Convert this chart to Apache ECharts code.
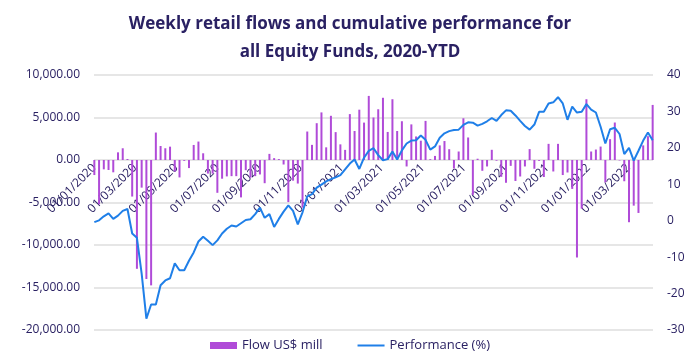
<!DOCTYPE html>
<html>
<head>
<meta charset="utf-8">
<script src="https://cdn.jsdelivr.net/npm/echarts@6/dist/echarts.min.js"></script>
<style>
html,body{margin:0;padding:0;background:#fff;}
#chart{width:700px;height:363px;}
</style>
</head>
<body>
<div id="chart"></div>
<script>
// ---- data ----
const titleText = 'Weekly retail flows and cumulative performance for\nall Equity Funds, 2020-YTD';
const firstWeek = [2020, 1, 1]; // weekly (Wednesday) observations start 01/01/2020
const xTickLabels = ['01/01/2020','01/03/2020','01/05/2020','01/07/2020','01/09/2020','01/11/2020',
  '01/01/2021','01/03/2021','01/05/2021','01/07/2021','01/09/2021','01/11/2021','01/01/2022','01/03/2022'];
const flowName = 'Flow US$ mill';
const perfName = 'Performance (%)';
const flows = [
  -1770,-5200,-1100,-1180,-1450,900,1380,120,-4300,-12800,
  -3250,-14000,-14750,3230,1650,1380,1570,-1350,-2050,-100,
  -950,1770,2170,790,-1600,-1600,-3860,-2200,-1930,-1900,
  -1900,-4400,-1200,-2080,-1900,-1700,-2730,720,220,110,
  -530,-4950,-2430,-2770,-5600,3350,1780,4330,5600,1490,
  5200,3280,1840,1190,5400,3410,5920,4400,7540,5000,
  5970,7320,3300,7150,3410,4560,-760,4190,2770,2270,
  4600,100,480,1720,2230,1270,-1000,1000,4910,2650,
  -4100,150,-1270,-760,1200,-80,-1980,-2680,-690,-2470,
  -1940,-760,1280,-1030,-100,-2000,1900,-1350,1900,-1770,
  -1470,-3400,-11470,-5720,7150,1000,1230,1580,-2620,2450,
  4410,-50,-2500,-7320,-5370,-6230,1720,2800,6480
];
const performance = [
  -0.4,0.1,1.2,2.0,0.5,1.4,2.7,3.2,-3.5,-4.7,
  -14.5,-26.9,-23.0,-23.0,-17.7,-16.4,-15.8,-11.7,-13.6,-13.6,
  -11.0,-8.7,-5.7,-4.4,-5.5,-6.7,-5.4,-3.5,-2.2,-1.3,
  -1.6,-0.7,0.2,0.4,1.8,3.6,0.8,1.8,-1.7,0.5,
  2.5,4.2,2.7,-1.0,2.3,6.7,7.3,9.1,9.9,10.8,
  11.4,11.9,12.5,14.1,15.7,16.8,14.2,17.3,19.2,19.9,
  18.0,16.6,16.9,19.0,16.8,19.3,21.2,22.0,22.1,23.4,
  22.2,19.5,20.4,22.8,24.0,24.6,24.9,25.0,26.3,27.0,
  26.9,26.1,26.6,27.3,28.2,27.4,29.0,30.3,30.2,28.9,
  27.4,26.0,25.0,26.4,29.9,29.9,32.2,32.5,33.9,32.2,
  27.7,31.3,29.7,29.9,32.0,30.5,29.7,25.8,21.2,25.1,
  25.5,23.8,18.3,20.0,16.5,19.2,22.0,24.2,22.1
];
const leftTicks = { min: -20000, max: 10000, interval: 5000 };
const rightTicks = { min: -30, max: 40, interval: 10 };

// ---- build ----
const DAY = 86400000;
const start = new Date(firstWeek[0], firstWeek[1]-1, firstWeek[2]).getTime();
function weekTime(i){ const d = new Date(firstWeek[0], firstWeek[1]-1, firstWeek[2] + 7*i); return d.getTime(); }
const flowData = flows.map((v,i)=>[weekTime(i), v]);
const perfData = performance.map((v,i)=>[weekTime(i), v]);
const tickTimes = xTickLabels.map(s=>{ const p=s.split('/'); return new Date(+p[2], +p[1]-1, +p[0]).getTime(); });
const xMin = start - DAY/2;
const xMax = weekTime(flows.length-1) + DAY/2;
function pad(n){ return (n<10?'0':'')+n; }
function fmtDate(t){ const d=new Date(t); return pad(d.getDate())+'/'+pad(d.getMonth()+1)+'/'+d.getFullYear(); }
function fmtNum(v){
  const neg = v<0; let s = Math.abs(v).toFixed(2); let [a,b]=s.split('.');
  a = a.replace(/\B(?=(\d{3})+(?!\d))/g, ',');
  return (neg?'-':'')+a+'.'+b;
}

// grid geometry and the pixel distance from the plot bottom up to the zero line
const gridTop = 75, gridBottom = 33, H = 363;
const plotH = H - gridTop - gridBottom;
const zeroFromBottom = plotH * (0 - leftTicks.min) / (leftTicks.max - leftTicks.min);

const navy = '#2a2163';
const font = '"Open Sans", sans-serif';
const chart = echarts.init(document.getElementById('chart'), null, {renderer:'canvas'});
chart.setOption({
  animation: false,
  backgroundColor: '#ffffff',
  title: {
    text: titleText,
    left: 'center',
    top: 5,
    textStyle: { fontFamily: font, fontSize: 17, fontWeight: 'bold', color: navy, lineHeight: 28 }
  },
  legend: {
    bottom: 6,
    left: 'center',
    itemGap: 34,
    itemWidth: 27,
    itemHeight: 7,
    textStyle: { fontFamily: font, fontSize: 13, color: navy },
    data: [
      { name: flowName, icon: 'rect' },
      { name: perfName, itemStyle: { opacity: 0 } }
    ]
  },
  grid: { left: 94, right: 47, top: gridTop, bottom: gridBottom, outerBoundsMode: 'none', containLabel: false },
  xAxis: {
    type: 'value',
    min: xMin,
    max: xMax,
    scale: true,
    axisLine: { show: false, onZero: false },
    axisTick: { show: false },
    splitLine: { show: false },
    axisLabel: {
      customValues: tickTimes,
      formatter: (v)=>fmtDate(v),
      rotate: 45,
      margin: 6 - zeroFromBottom,
      color: navy,
      fontFamily: font,
      fontSize: 12
    }
  },
  yAxis: [
    {
      type: 'value',
      min: leftTicks.min, max: leftTicks.max, interval: leftTicks.interval,
      axisLine: { show: false }, axisTick: { show: false },
      splitLine: { show: true, lineStyle: { color: '#dedede', width: 1.5 } },
      axisLabel: { formatter: fmtNum, color: navy, fontFamily: font, fontSize: 12, margin: 14 }
    },
    {
      type: 'value',
      min: rightTicks.min, max: rightTicks.max, interval: rightTicks.interval,
      axisLine: { show: false }, axisTick: { show: false },
      splitLine: { show: false },
      axisLabel: { color: navy, fontFamily: font, fontSize: 12, margin: 14 }
    }
  ],
  series: [
    {
      name: flowName,
      type: 'bar',
      yAxisIndex: 0,
      data: flowData,
      barWidth: 2,
      itemStyle: { color: '#b04bd8' }
    },
    {
      name: perfName,
      type: 'line',
      yAxisIndex: 1,
      data: perfData,
      symbol: 'none',
      lineStyle: { color: '#1f7fe8', width: 2 },
      itemStyle: { color: '#1f7fe8' },
      z: 3
    }
  ]
});
</script>
</body>
</html>
